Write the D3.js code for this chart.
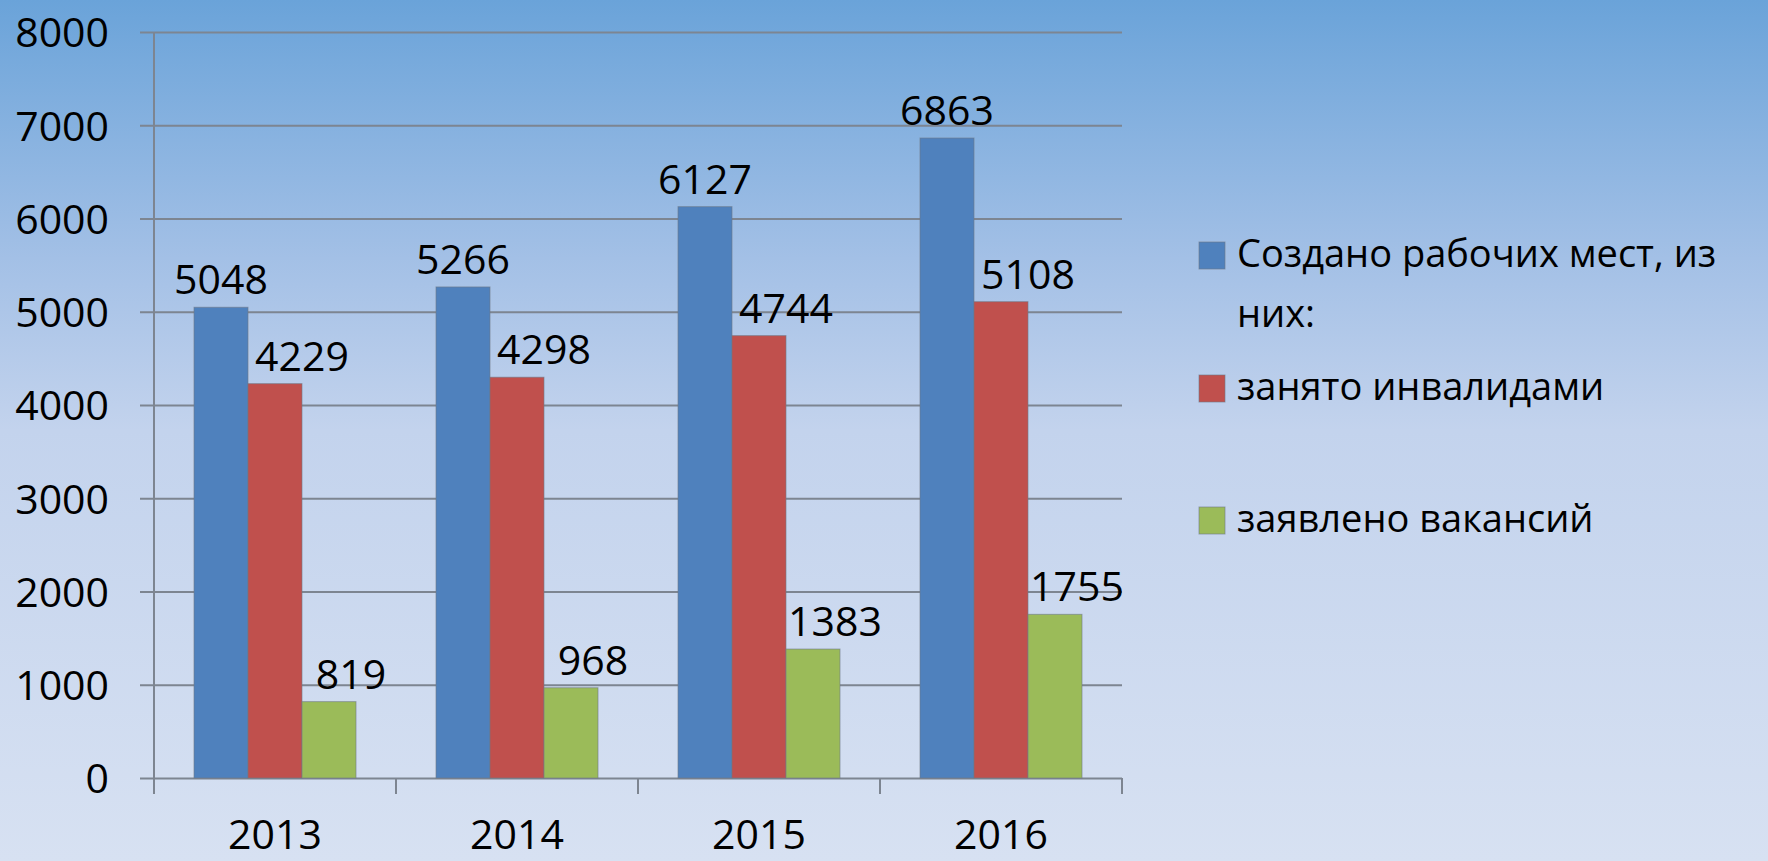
<!DOCTYPE html>
<html>
<head>
<meta charset="utf-8">
<script src="https://cdn.jsdelivr.net/npm/d3@7"></script>
<style>
  html, body { margin: 0; padding: 0; }
  body { width: 1768px; height: 861px; overflow: hidden; }
  text { font-family: "Open Sans", "Noto Sans", sans-serif; fill: #000; }
</style>
</head>
<body>
<div id="container"></div>
<script>
var years = ['2013', '2014', '2015', '2016'];
var seriesNames = ['Создано рабочих мест, из них:', 'занято инвалидами', 'заявлено вакансий'];
var created = [5048, 5266, 6127, 6863];
var disabled = [4229, 4298, 4744, 5108];
var vacancies = [819, 968, 1383, 1755];
var yTicks = [0, 1000, 2000, 3000, 4000, 5000, 6000, 7000, 8000];

var colors = ['#4f81bd', '#c0504d', '#9bbb59'],
    series = [created, disabled, vacancies],
    labelShift = [0, 27, 22],
    svgWidth = 1768,
    svgHeight = 861,
    plotLeft = 154,
    plotRight = 1122,
    plotTop = 32,
    plotBottom = 778;

var svg = d3.select('#container')
    .append('svg')
    .attr('width', svgWidth)
    .attr('height', svgHeight);

var grad = svg.append('defs').append('linearGradient')
    .attr('id', 'bg')
    .attr('x1', 0).attr('y1', 0)
    .attr('x2', 0).attr('y2', 1);
grad.append('stop').attr('offset', '0%').attr('stop-color', '#6aa3d9');
grad.append('stop').attr('offset', '30%').attr('stop-color', '#a3c0e6');
grad.append('stop').attr('offset', '50%').attr('stop-color', '#c3d3ed');
grad.append('stop').attr('offset', '100%').attr('stop-color', '#d7e1f2');

svg.append('rect')
    .attr('width', svgWidth)
    .attr('height', svgHeight)
    .attr('fill', 'url(#bg)');

var x0 = d3.scaleBand()
    .domain(years)
    .range([plotLeft, plotRight]);

var x1 = d3.scaleBand()
    .domain([0, 1, 2])
    .range([40, x0.bandwidth() - 40]);

var y = d3.scaleLinear()
    .domain([0, 8000])
    .range([plotBottom, plotTop]);

// gridlines + y labels
var yAxis = svg.append('g')
    .attr('transform', 'translate(140,0)')
    .call(d3.axisLeft(y)
        .tickValues(yTicks)
        .tickFormat(d3.format('d'))
        .tickSize(-(plotRight - 140))
        .tickPadding(31));
yAxis.select('.domain').remove();
yAxis.selectAll('line').attr('stroke', '#7d8591').attr('stroke-width', 2);
yAxis.selectAll('text')
    .style('font-size', '41px')
    .attr('dy', '0.36em');

// vertical axis line
svg.append('line')
    .attr('x1', plotLeft).attr('x2', plotLeft)
    .attr('y1', plotTop).attr('y2', plotBottom + 16)
    .attr('stroke', '#7d8591').attr('stroke-width', 2);

// category tick marks
svg.append('g')
    .selectAll('line')
    .data(years)
    .enter()
    .append('line')
    .attr('x1', function(d) { return x0(d) + x0.bandwidth(); })
    .attr('x2', function(d) { return x0(d) + x0.bandwidth(); })
    .attr('y1', plotBottom)
    .attr('y2', plotBottom + 16)
    .attr('stroke', '#7d8591').attr('stroke-width', 2);

// bars
var group = svg.selectAll('g.year')
    .data(years)
    .enter()
    .append('g')
    .attr('class', 'year')
    .attr('transform', function(d) { return 'translate(' + x0(d) + ',0)'; });

function rows(d, i) {
    return series.map(function(s, k) { return {k: k, v: s[i]}; });
}

group.selectAll('rect')
    .data(rows)
    .enter()
    .append('rect')
    .attr('x', function(d) { return x1(d.k); })
    .attr('y', function(d) { return y(d.v); })
    .attr('width', x1.bandwidth())
    .attr('height', function(d) { return y(0) - y(d.v); })
    .attr('fill', function(d) { return colors[d.k]; })
    .attr('stroke', 'rgba(110,120,135,0.6)')
    .attr('stroke-width', 1);

group.selectAll('text.val')
    .data(rows)
    .enter()
    .append('text')
    .attr('class', 'val')
    .attr('x', function(d) { return x1(d.k) + x1.bandwidth() / 2 + labelShift[d.k]; })
    .attr('y', function(d) { return y(d.v) - 13; })
    .attr('text-anchor', 'middle')
    .style('font-size', '41px')
    .text(function(d) { return d.v; });

// x labels
svg.append('g')
    .selectAll('text')
    .data(years)
    .enter()
    .append('text')
    .attr('x', function(d) { return x0(d) + x0.bandwidth() / 2; })
    .attr('y', 849)
    .attr('text-anchor', 'middle')
    .style('font-size', '41px')
    .text(function(d) { return d; });

// legend
var legendY = [267, 400, 532];
var legend = svg.append('g');
legend.selectAll('rect')
    .data(seriesNames)
    .enter()
    .append('rect')
    .attr('x', 1199)
    .attr('y', function(d, i) { return legendY[i] - 25; })
    .attr('width', 26)
    .attr('height', 27)
    .attr('fill', function(d, i) { return colors[i]; })
    .attr('stroke', 'rgba(110,120,135,0.6)')
    .attr('stroke-width', 1);

var lt = legend.selectAll('text')
    .data(seriesNames)
    .enter()
    .append('text')
    .attr('x', 1237)
    .attr('y', function(d, i) { return legendY[i]; })
    .style('font-size', '38px');
lt.filter(function(d, i) { return i === 0; })
    .each(function() {
        var t = d3.select(this);
        t.append('tspan').attr('x', 1237).text('Создано рабочих мест, из');
        t.append('tspan').attr('x', 1237).attr('dy', 60).text('них:');
    });
lt.filter(function(d, i) { return i > 0; })
    .text(function(d) { return d; });
</script>
</body>
</html>
